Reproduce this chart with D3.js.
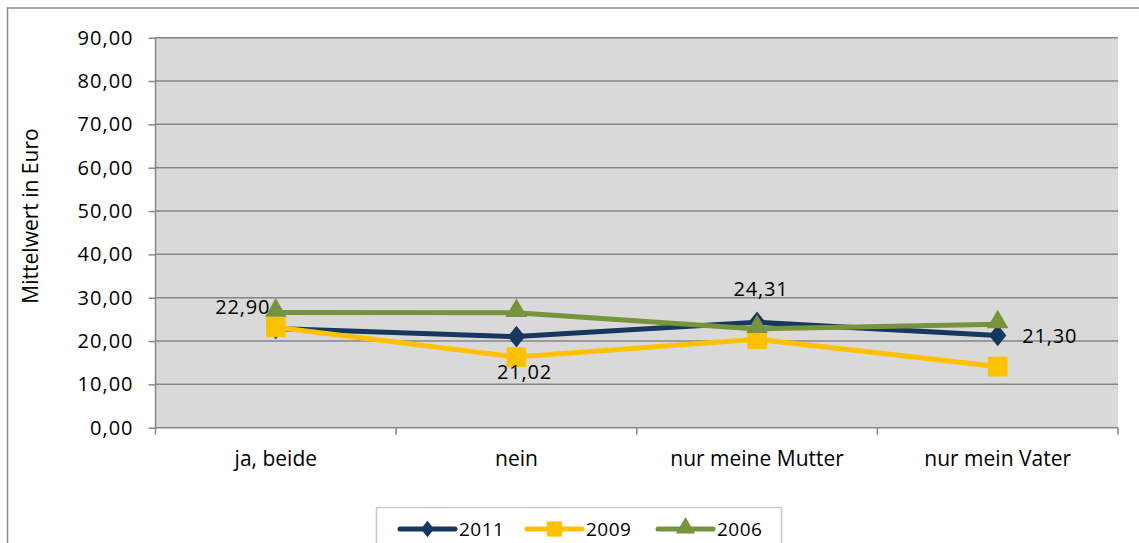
<!DOCTYPE html>
<html><head><meta charset="utf-8">
<script src="https://cdn.jsdelivr.net/npm/d3@7"></script>
<style>
html,body{margin:0;padding:0;background:#fff;}
text{font-family:"Open Sans",sans-serif;fill:#000;}
</style></head>
<body>
<svg id="chart" width="1139" height="543"></svg>
<script>
const categories = ["ja, beide", "nein", "nur meine Mutter", "nur mein Vater"];
const seriesNames = ["2011", "2009", "2006"];
const values2011 = [22.90, 21.02, 24.31, 21.30];
const values2009 = [23.2, 16.3, 20.4, 14.1];
const values2006 = [26.6, 26.5, 22.8, 23.9];
const yTicks = [0, 10, 20, 30, 40, 50, 60, 70, 80, 90];
const labelled2011 = ["22,90", "21,02", "24,31", "21,30"];

const colors = {"2011": "#17375E", "2009": "#FFC000", "2006": "#77933C"};
// diamond slightly taller than wide, as in Excel
const excelDiamond = {
  draw(ctx, size) {
    const w = Math.sqrt(size * 0.8 / 2), h = w / 0.8;
    ctx.moveTo(0, -h); ctx.lineTo(w, 0); ctx.lineTo(0, h); ctx.lineTo(-w, 0); ctx.closePath();
  }
};
const symbols = {"2011": excelDiamond, "2009": d3.symbolSquare, "2006": d3.symbolTriangle};
const seriesValues = {"2011": values2011, "2009": values2009, "2006": values2006};

const svg = d3.select("#chart");
const plot = {l: 155.5, t: 37.7, r: 1118, b: 427.7};

// outer frame
svg.append("rect").attr("x", 7.5).attr("y", 8).attr("width", 1140).attr("height", 560)
  .attr("fill", "none").attr("stroke", "#8c8c8c").attr("stroke-width", 1.5);

const x = d3.scaleBand().domain(categories).range([plot.l, plot.r]).padding(0);
const y = d3.scaleLinear().domain([0, 90]).range([plot.b, plot.t]);

svg.append("rect").attr("x", plot.l).attr("y", plot.t)
  .attr("width", plot.r - plot.l).attr("height", plot.b - plot.t).attr("fill", "#D9D9D9");

// gridlines
svg.append("g").selectAll("line").data(yTicks.filter(d => d > 0)).join("line")
  .attr("x1", plot.l).attr("x2", plot.r)
  .attr("y1", d => y(d)).attr("y2", d => y(d))
  .attr("stroke", "#868686").attr("stroke-width", 1.5);

// y axis
const yAxis = d3.axisLeft(y).tickValues(yTicks).tickSize(7).tickPadding(15)
  .tickFormat(d => d3.format(".2f")(d).replace(".", ","));
const gy = svg.append("g").attr("transform", `translate(${plot.l},0)`).call(yAxis);
gy.select(".domain").attr("stroke", "#868686").attr("stroke-width", 1.5).attr("d", `M0,${plot.t}V${plot.b}`);
gy.selectAll(".tick line").attr("stroke", "#868686").attr("stroke-width", 1.5);
gy.selectAll(".tick text").attr("font-family", "Open Sans").attr("font-size", 20).attr("fill", "#000")
  .attr("letter-spacing", 1);

// x axis
const xAxis = d3.axisBottom(x).tickSize(0).tickPadding(23);
const gx = svg.append("g").attr("transform", `translate(0,${plot.b})`).call(xAxis);
gx.select(".domain").attr("stroke", "#868686").attr("stroke-width", 1.5).attr("d", `M${plot.l},0H${plot.r}`);
gx.selectAll(".tick text").attr("font-family", "Open Sans").attr("font-size", 21).attr("fill", "#000");
// category boundary ticks
const bounds = categories.map(c => x(c)).concat([x(categories[categories.length - 1]) + x.bandwidth()]);
svg.append("g").selectAll("line").data(bounds).join("line")
  .attr("x1", d => d).attr("x2", d => d).attr("y1", plot.b).attr("y2", plot.b + 7)
  .attr("stroke", "#868686").attr("stroke-width", 1.5);

// y title
svg.append("text").attr("transform", `translate(38,216) rotate(-90)`)
  .attr("text-anchor", "middle").attr("font-size", 21).text("Mittelwert in Euro");

// series
const cx = c => x(c) + x.bandwidth() / 2;
const line = d3.line().x(d => cx(d.c)).y(d => y(d.v));
const markerSize = {"2011": 190, "2009": 390, "2006": 200};
seriesNames.forEach(s => {
  const data = categories.map((c, i) => ({c, v: seriesValues[s][i]}));
  const g = svg.append("g");
  g.append("path").datum(data).attr("d", line).attr("fill", "none")
    .attr("stroke", colors[s]).attr("stroke-width", 5).attr("stroke-linejoin", "round");
  g.selectAll("path.m").data(data).join("path").attr("class", "m")
    .attr("d", d3.symbol().type(symbols[s]).size(markerSize[s]))
    .attr("transform", d => `translate(${cx(d.c)},${y(d.v) + (s === "2006" ? -2 : 0)})`)
    .attr("fill", colors[s]);
});

// data labels for 2011
const labelOffsets = [[-33, -14], [8, 42], [4, -26], [52, 8]];
svg.append("g").selectAll("text").data(categories).join("text")
  .attr("x", (c, i) => cx(c) + labelOffsets[i][0])
  .attr("y", (c, i) => y(values2011[i]) + labelOffsets[i][1])
  .attr("text-anchor", "middle").attr("font-size", 20).attr("letter-spacing", 0.8)
  .text((c, i) => labelled2011[i]);

// legend
const lg = svg.append("g");
lg.append("rect").attr("x", 376.5).attr("y", 507.5).attr("width", 405).attr("height", 60)
  .attr("fill", "#fff").attr("stroke", "#c8c8c8").attr("stroke-width", 1.5);
const legendX = [400, 527, 658];
const legendSize = {"2011": 110, "2009": 230, "2006": 160};
seriesNames.forEach((s, i) => {
  const x0 = legendX[i];
  lg.append("line").attr("x1", x0).attr("x2", x0 + 55).attr("y1", 529).attr("y2", 529)
    .attr("stroke", colors[s]).attr("stroke-width", 5).attr("stroke-linecap", "round");
  lg.append("path").attr("d", d3.symbol().type(symbols[s]).size(legendSize[s]))
    .attr("transform", `translate(${x0 + 27.5},${529 + (s === "2006" ? -1 : 0)})`).attr("fill", colors[s]);
  lg.append("text").attr("x", x0 + 59).attr("y", 536).attr("font-size", 19).attr("letter-spacing", 0.5).text(s);
});
</script>
</body></html>
